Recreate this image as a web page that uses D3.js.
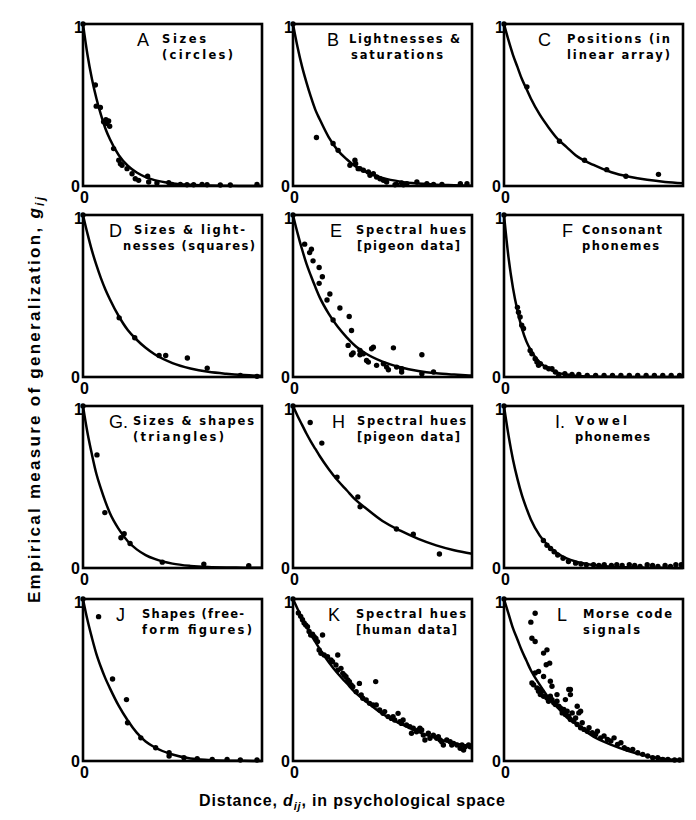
<!DOCTYPE html>
<html><head><meta charset="utf-8">
<script src="https://cdn.jsdelivr.net/npm/d3@7"></script>
<style>body{margin:0;background:#fff}</style>
</head><body>
<svg id="chart" width="696" height="820"></svg>
<script>
// ---------- DATA ----------
const panelLetters = ["A","B","C","D","E","F","G.","H","I.","J","K","L"];
const panelLine1 = ["Sizes","Lightnesses &","Positions (in","Sizes & light-","Spectral hues","Consonant","Sizes & shapes","Spectral hues","Vowel","Shapes (free-","Spectral hues","Morse code"];
const panelLine2 = ["(circles)","saturations","linear array)","nesses (squares)","[pigeon data]","phonemes","(triangles)","[pigeon data]","phonemes","form figures)","[human data]","signals"];
const yTicks = [0, 1];
const xTicks = [0];

// x positions at which the fitted curves were read
const curveX = [0,0.025,0.05,0.075,0.1,0.125,0.15,0.2,0.25,0.3,0.35,0.4,0.5,0.6,0.7,0.8,0.9,1.0];
const curveA = [1,.81,.66,.54,.44,.355,.29,.19,.125,.083,.055,.036,.016,.007,.003,.001,0,0];
const curveB = [1,.86,.74,.64,.55,.47,.41,.30,.22,.165,.12,.09,.05,.027,.015,.008,.005,.002];
const curveC = [1,.90,.81,.735,.66,.60,.54,.44,.36,.29,.24,.19,.13,.085,.057,.038,.025,.017];
const curveD = [1,.885,.78,.69,.61,.54,.48,.375,.29,.23,.18,.14,.086,.053,.032,.02,.012,.007];
const curveE = [1,.89,.79,.70,.625,.555,.49,.39,.31,.245,.19,.15,.095,.06,.037,.023,.015,.009];
const curveF = [1,.74,.55,.41,.30,.22,.165,.09,.05,.027,.015,.008,.003,.001,0,0,0,0];
const curveG = [1,.835,.70,.58,.49,.41,.34,.24,.165,.115,.08,.056,.027,.013,.006,.003,.002,.001];
const curveH = [1,.94,.885,.83,.78,.735,.69,.61,.54,.48,.42,.375,.29,.23,.18,.14,.11,.088];
const curveI = [1,.82,.67,.55,.45,.37,.30,.20,.135,.09,.06,.04,.018,.008,.004,.002,.001,0];
const curveJ = [1,.87,.76,.66,.58,.51,.45,.34,.25,.175,.12,.085,.04,.015,.006,.002,.001,0];
const curveK = [1,.94,.885,.83,.78,.735,.69,.61,.54,.48,.42,.375,.29,.23,.18,.14,.11,.088];
const curveL = [1,.91,.82,.75,.68,.62,.56,.47,.39,.33,.27,.23,.15,.10,.06,.03,.012,.004];

const dotsA = [[0,1],[.069,.623],[.074,.493],[.097,.485],[.115,.396],[.128,.41],[.143,.402],[.149,.369],[.134,.386],[.171,.231],[.2,.159],[.209,.138],[.218,.128],[.246,.107],[.274,.076],[.292,.045],[.311,.035],[.361,.06],[.367,.025],[.413,.019],[.479,.021],[.497,.01],[.544,.01],[.581,.008],[.618,.008],[.665,.01],[.693,.008],[.767,.006],[.823,.006],[.972,.01]];
const dotsB = [[0,1],[.131,.299],[.224,.262],[.252,.22],[.318,.128],[.346,.159],[.35,.138],[.364,.107],[.374,.107],[.393,.097],[.421,.087],[.43,.066],[.449,.076],[.467,.056],[.486,.045],[.505,.035],[.523,.025],[.57,.008],[.579,.01],[.607,.019],[.617,.008],[.636,.014],[.692,.025],[.748,.014],[.785,.01],[.832,.01],[.935,.014],[.972,.014]];
const dotsC = [[0,1],[.128,.612],[.31,.276],[.45,.159],[.574,.101],[.681,.06],[.863,.072]];
const dotsD = [[0,1],[.202,.365],[.289,.242],[.425,.133],[.462,.133],[.583,.117],[.694,.055],[.879,.01],[.972,.004]];
const dotsE = [[0,1],[.065,.82],[.103,.789],[.093,.768],[.112,.717],[.146,.676],[.164,.619],[.146,.578],[.206,.512],[.19,.475],[.262,.426],[.224,.352],[.314,.373],[.327,.287],[.308,.195],[.327,.137],[.336,.148],[.374,.137],[.374,.164],[.393,.143],[.439,.174],[.449,.184],[.411,.102],[.421,.092],[.467,.072],[.505,.082],[.523,.061],[.533,.045],[.561,.18],[.579,.061],[.607,.051],[.607,.031],[.72,.137],[.72,.02],[.785,.031]];
const dotsF = [[0,1],[.075,.43],[.081,.4],[.09,.37],[.099,.32],[.109,.3],[.146,.164],[.156,.143],[.174,.113],[.184,.092],[.193,.072],[.203,.082],[.231,.061],[.25,.051],[.268,.051],[.287,.031],[.306,.01],[.34,.02],[.38,.016],[.418,.016],[.465,.01],[.512,.01],[.559,.01],[.606,.01],[.653,.01],[.7,.01],[.747,.01],[.794,.01],[.84,.01],[.887,.01],[.934,.01],[.981,.01]];
const dotsG = [[0,1],[.078,.698],[.122,.342],[.212,.187],[.23,.211],[.263,.151],[.443,.036],[.675,.024],[.926,.014]];
const dotsH = [[0,1],[.096,.898],[.161,.771],[.246,.561],[.362,.439],[.375,.378],[.578,.241],[.672,.208],[.818,.086]];
const dotsI = [[0,1],[.22,.17],[.24,.14],[.26,.12],[.28,.1],[.3,.08],[.33,.06],[.36,.04],[.4,.03],[.43,.025],[.46,.02],[.5,.02],[.53,.015],[.56,.02],[.6,.015],[.63,.02],[.66,.015],[.7,.02],[.73,.015],[.76,.01],[.8,.02],[.83,.015],[.86,.01],[.9,.015],[.93,.01],[.96,.02],[.99,.02]];
const dotsJ = [[0,1],[.087,.891],[.165,.506],[.243,.379],[.249,.236],[.323,.143],[.406,.082],[.481,.051],[.481,.031],[.564,.02],[.638,.014],[.722,.01],[.805,.01],[.879,.006],[.972,.006]];
const dotsK = [[0,1],[.03,.914],[.043,.893],[.053,.872],[.062,.852],[.071,.84],[.081,.829],[.09,.8],[.099,.778],[.109,.782],[.118,.768],[.128,.757],[.137,.737],[.165,.778],[.146,.685],[.156,.665],[.174,.654],[.193,.644],[.212,.623],[.221,.613],[.25,.654],[.24,.593],[.25,.56],[.268,.572],[.278,.541],[.287,.53],[.296,.52],[.306,.5],[.315,.49],[.325,.469],[.371,.479],[.462,.49],[.334,.459],[.353,.428],[.381,.407],[.39,.387],[.409,.377],[.428,.356],[.447,.346],[.465,.346],[.484,.315],[.503,.294],[.512,.305],[.531,.274],[.55,.263],[.559,.274],[.568,.253],[.587,.294],[.597,.243],[.606,.232],[.615,.253],[.634,.222],[.653,.212],[.662,.171],[.672,.202],[.69,.181],[.7,.191],[.709,.202],[.719,.191],[.728,.16],[.737,.13],[.756,.171],[.765,.14],[.784,.16],[.803,.14],[.812,.15],[.822,.13],[.831,.119],[.84,.099],[.859,.13],[.878,.119],[.887,.099],[.897,.109],[.916,.099],[.934,.078],[.944,.099],[.953,.068],[.962,.088],[.981,.099],[.99,.088]];
const dotsL = [[0,1],[.174,.912],[.15,.857],[.156,.758],[.174,.738],[.24,.686],[.221,.666],[.255,.604],[.236,.594],[.193,.553],[.174,.543],[.221,.522],[.156,.482],[.259,.492],[.268,.461],[.371,.441],[.362,.441],[.203,.441],[.212,.43],[.165,.471],[.184,.451],[.193,.43],[.203,.41],[.221,.4],[.24,.389],[.249,.369],[.259,.4],[.268,.379],[.278,.359],[.287,.348],[.296,.369],[.296,.41],[.306,.338],[.315,.328],[.325,.297],[.334,.318],[.343,.287],[.343,.379],[.353,.307],[.362,.277],[.371,.256],[.371,.41],[.381,.297],[.39,.246],[.4,.266],[.409,.225],[.409,.338],[.418,.297],[.428,.205],[.428,.307],[.437,.236],[.447,.195],[.465,.184],[.475,.205],[.493,.174],[.512,.164],[.522,.184],[.54,.143],[.559,.154],[.578,.133],[.597,.123],[.615,.143],[.634,.102],[.653,.113],[.672,.082],[.69,.072],[.719,.072],[.747,.051],[.775,.041],[.803,.031],[.831,.02],[.859,.02],[.887,.01],[.916,.01],[.953,.006],[.981,.006]];

const curves = [curveA,curveB,curveC,curveD,curveE,curveF,curveG,curveH,curveI,curveJ,curveK,curveL];
const dots = [dotsA,dotsB,dotsC,dotsD,dotsE,dotsF,dotsG,dotsH,dotsI,dotsJ,dotsK,dotsL];

// ---------- LAYOUT ----------
const colX = [83, 293, 504], rowY = [24, 215, 406, 599];
const W = 179, H = 162;
// label layout: [letterX, line1X, line2X, line1Len, line2Len]
const labelLayout = [
  [54,79,79,44,71],[34,56,58,111,92],[34,63,63,103,103],
  [26,51,40,111,132],[37,63,64,110,103],[58,78,78,80,77],
  [26,50,50,121,91],[39,64,64,109,103],[51,71,71,52,75],
  [33,59,59,102,110],[35,63,63,110,101],[53,79,79,89,57]
];

const svg = d3.select("#chart");
const x = d3.scaleLinear().domain([0,1]).range([0,W]);
const y = d3.scaleLinear().domain([0,1]).range([H,0]);
const line = d3.line().x(d=>x(d[0])).y(d=>y(d[1])).curve(d3.curveMonotoneX);

panelLetters.forEach((letter,i)=>{
  const g = svg.append("g").attr("transform",`translate(${colX[i%3]},${rowY[Math.floor(i/3)]})`);
  // axes
  const ya = g.append("g").call(d3.axisLeft(y).tickValues(yTicks).tickSize(0).tickPadding(3).tickFormat(d3.format("d")));
  ya.select(".domain").remove();
  ya.selectAll("text").attr("font-family","Liberation Sans, Arial, sans-serif").attr("font-weight","bold").attr("font-size",16).attr("fill","#000");
  ya.selectAll(".tick").filter(d=>d===1).select("text").attr("x",0).attr("dy","0.5em");
  const xa = g.append("g").attr("transform",`translate(0,${H})`).call(d3.axisBottom(x).tickValues(xTicks).tickSize(0).tickPadding(6).tickFormat(d3.format("d")));
  xa.select(".domain").remove();
  xa.selectAll("text").attr("font-family","Liberation Sans, Arial, sans-serif").attr("font-weight","bold").attr("font-size",16).attr("fill","#000").attr("x",1);
  // curve
  const pts = curveX.map((cx,k)=>[cx,curves[i][k]]);
  g.append("path").attr("d",line(pts)).attr("fill","none").attr("stroke","#000").attr("stroke-width",2.5);
  // dots
  g.selectAll("circle.d").data(dots[i]).join("circle").attr("class","d")
    .attr("cx",d=>x(d[0])).attr("cy",d=>y(d[1])).attr("r",2.7).attr("fill","#000");
  // frame
  g.append("rect").attr("width",W).attr("height",H).attr("fill","none").attr("stroke","#000").attr("stroke-width",2.6);
  // labels
  const L = labelLayout[i];
  g.append("text").attr("x",L[0]).attr("y",22).text(letter)
    .attr("font-family","Liberation Sans, Arial, sans-serif").attr("font-size",18).attr("fill","#000");
  g.append("text").attr("x",L[1]).attr("y",19).text(panelLine1[i])
    .attr("font-family","DejaVu Sans, sans-serif").attr("font-weight","bold").attr("font-size",11.5)
    .attr("textLength",L[3]).attr("lengthAdjust","spacing");
  g.append("text").attr("x",L[2]).attr("y",35).text(panelLine2[i])
    .attr("font-family","DejaVu Sans, sans-serif").attr("font-weight","bold").attr("font-size",11.5)
    .attr("textLength",L[4]).attr("lengthAdjust","spacing");
});

// axis titles
const xt = svg.append("text").attr("x",352).attr("y",806).attr("text-anchor","middle")
  .attr("font-family","Liberation Sans, Arial, sans-serif").attr("font-weight","bold").attr("font-size",16)
  .attr("textLength",306).attr("lengthAdjust","spacing");
xt.append("tspan").text("Distance, ");
xt.append("tspan").attr("font-style","italic").text("d");
xt.append("tspan").attr("font-style","italic").attr("font-size",11).attr("dy",4).text("ij");
xt.append("tspan").attr("dy",-4).text(", in psychological space");

const yt = svg.append("text").attr("transform","translate(40,400) rotate(-90)").attr("text-anchor","middle")
  .attr("font-family","Liberation Sans, Arial, sans-serif").attr("font-weight","bold").attr("font-size",17)
  .attr("textLength",406).attr("lengthAdjust","spacing");
yt.append("tspan").text("Empirical measure of generalization, ");
yt.append("tspan").attr("font-style","italic").text("g");
yt.append("tspan").attr("font-style","italic").attr("font-size",12).attr("dy",4).text("ij");
</script>
</body></html>
